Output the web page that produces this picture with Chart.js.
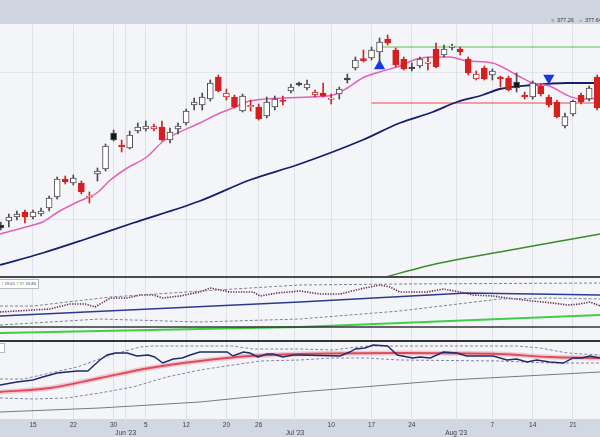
<!DOCTYPE html>
<html>
<head>
<meta charset="utf-8">
<script src="https://cdn.jsdelivr.net/npm/chart.js@4/dist/chart.umd.min.js"></script>
<style>
  html, body { margin: 0; padding: 0; }
  body { width: 600px; height: 437px; position: relative; overflow: hidden; background: #f4f5f9; font-family: "Liberation Sans", Arial, sans-serif; }
  .band { position: absolute; left: 0; width: 600px; background: #cfd5e0; }
  .rule { position: absolute; left: 0; width: 600px; background: #4a4a4a; }
  canvas { position: absolute; left: 0; }
  .hdr { position: absolute; top: 17px; font-size: 5.5px; color: #3a3a3a; white-space: nowrap; }
  .hdr.ic { color: #8a8f99; }
  .lbl { position: absolute; left: -3px; top: 279px; height: 8px; line-height: 8px; padding: 0 2px 0 3px; background: #fff; border: 1px solid #b5b9c2; font-size: 4.2px; white-space: nowrap; }
</style>
</head>
<body>
<div class="band" style="top:0;height:24px"></div>
<div class="band" style="top:419px;height:18px;background:#d2d8e2"></div>
<div class="hdr ic" style="left:551px">&#8801;</div>
<div class="hdr" style="left:557px">377.26</div>
<div class="hdr ic" style="left:579px">&raquo;</div>
<div class="hdr" style="left:585px">377.64</div>

<canvas id="main" width="600" height="252" style="top:25px"></canvas>
<canvas id="ind1" width="600" height="64" style="top:277px"></canvas>
<canvas id="ind2" width="600" height="96" style="top:341px"></canvas>

<div class="rule" style="top:276px;height:2px"></div>
<div class="rule" style="top:340px;height:2px;background:#333"></div>
<div class="lbl"><span style="color:#999">7</span> <span style="color:#6e2a4a">19.61</span> <span style="color:#3aa83a">7.97</span> <span style="color:#333">15.85</span></div>
<div class="lbl" style="top:343px;left:-12px;width:10px"></div>

<script>
// trading day index, 1 = May 9 '23
const days = [];
for (let d = 1; d <= 75; d++) days.push(d);

const opens = [340.00, 341.00, 342.00, 343.25, 342.00, 342.75, 344.25, 347.00, 351.50, 350.50,
  350.50, 346.90, 352.75, 354.00, 363.00, 360.00, 359.25, 363.50, 364.00, 364.00,
  364.50, 361.25, 364.00, 365.50, 370.00, 370.00, 371.50, 377.00, 372.00, 372.00,
  368.50, 369.50, 369.50, 367.25, 369.50, 371.25, 373.50, 375.50, 374.25, 372.50,
  373.00, 371.40, 372.75, 376.75, 379.25, 381.60, 381.75, 383.25, 386.50, 383.75,
  381.50, 379.50, 379.75, 380.40, 384.00, 382.50, 384.40, 384.00, 381.50, 376.50,
  379.25, 377.50, 377.00, 376.75, 375.75, 372.50, 372.00, 374.75, 372.00, 370.75,
  364.75, 367.75, 372.50, 371.50, 377.00];
const highs = [340.75, 342.75, 343.50, 343.75, 343.75, 344.25, 347.25, 352.00, 352.25, 352.50,
  351.00, 348.25, 354.25, 360.25, 363.75, 361.25, 363.50, 365.50, 366.00, 365.25,
  366.00, 364.25, 365.50, 369.00, 371.75, 373.00, 376.25, 377.50, 374.00, 372.50,
  372.75, 371.25, 370.25, 372.00, 372.25, 372.25, 375.25, 375.75, 376.25, 373.75,
  375.50, 372.75, 374.50, 377.75, 382.00, 383.75, 384.50, 386.75, 387.50, 384.25,
  382.00, 380.50, 382.00, 382.00, 385.50, 385.00, 385.25, 384.50, 382.00, 378.50,
  379.75, 379.00, 377.25, 377.25, 378.00, 373.25, 376.00, 375.25, 372.50, 371.25,
  368.00, 371.25, 373.00, 374.75, 377.50];
const lows = [338.75, 339.50, 341.25, 340.50, 341.50, 342.25, 343.50, 346.50, 350.25, 350.00,
  347.75, 345.50, 351.00, 353.50, 361.00, 358.25, 359.00, 363.00, 363.50, 363.50,
  361.00, 360.50, 362.75, 365.00, 368.75, 368.75, 371.00, 373.25, 371.25, 369.25,
  368.25, 368.50, 366.25, 366.75, 368.75, 370.00, 373.00, 374.75, 373.75, 372.00,
  372.00, 370.25, 371.50, 375.50, 378.75, 380.75, 381.25, 380.75, 385.00, 379.50,
  378.75, 378.50, 379.25, 378.75, 379.25, 382.00, 383.75, 382.50, 377.50, 376.25,
  376.25, 376.25, 374.50, 373.50, 373.25, 371.50, 371.50, 372.25, 369.50, 366.75,
  364.25, 367.25, 370.25, 371.00, 368.75];
const closes = [339.25, 342.00, 342.75, 342.00, 343.25, 343.50, 346.75, 351.50, 350.75, 351.75,
  348.25, 347.10, 353.50, 359.75, 361.25, 359.50, 362.50, 364.50, 364.75, 364.60,
  361.25, 363.25, 364.75, 368.50, 370.75, 372.00, 375.50, 373.50, 373.00, 369.50,
  372.25, 369.90, 366.50, 370.75, 371.50, 370.90, 374.50, 375.00, 375.25, 373.25,
  372.25, 371.75, 374.00, 376.25, 381.25, 381.10, 383.75, 385.75, 385.50, 380.00,
  379.00, 379.10, 381.50, 380.75, 379.50, 384.00, 384.75, 383.25, 378.00, 377.75,
  376.50, 378.50, 376.50, 373.75, 374.25, 372.00, 375.50, 372.75, 370.00, 367.00,
  367.10, 370.90, 370.75, 374.25, 369.25];

// overlays on the price panel: [day, value]
const emaShort = [[0.9, 337.75], [5, 340.0], [6.2, 340.75], [8.1, 343.25], [10.5, 345.75], [12.9, 348.0],
  [14.6, 351.25], [16.7, 354.25], [19.1, 357.0], [21.2, 361.0], [25.7, 365.5], [28.2, 368.0],
  [29.8, 369.25], [31.9, 371.0], [36.0, 371.75], [39.4, 372.0], [42.2, 372.5], [44.0, 374.25],
  [45.9, 376.75], [48.0, 378.25], [50.5, 379.75], [52.6, 381.5], [54.6, 382.0], [56.7, 382.0],
  [58.8, 381.0], [62.0, 380.5], [65.0, 377.5], [67.0, 375.5], [69.1, 374.75], [71.2, 372.5],
  [72.9, 371.5], [75.4, 371.75]];
const sma50 = [[0.9, 330.0], [6.2, 333.0], [11.2, 336.25], [17.4, 340.5], [25.7, 346.0], [31.9, 351.25],
  [38.1, 355.25], [45.9, 361.25], [50.5, 365.5], [54.6, 368.25], [57.6, 370.75], [60.8, 372.5],
  [62.9, 374.0], [67.0, 375.0], [71.2, 375.5], [75.4, 375.5]];
const sma200 = [[41.8, 323.25], [48.7, 327.0], [55.5, 330.5], [62.9, 333.25], [71.2, 336.25], [75.4, 337.75]];
const supportLine = [[47, 370.5], [75.4, 370.5]];
const resistLine = [[48, 384.5], [75.4, 384.5]];
const buySignals = [[48, 379.75]];
const sellSignals = [[69, 376.75]];

// first indicator panel
const ind1Price = [[0.9, 14.5], [7.1, 16], [9.6, 18.5], [11.5, 18.5], [12.7, 17], [14.6, 21.5], [16.7, 21.5],
  [18.3, 23], [19.9, 23], [21.1, 21.5], [23.2, 22.5], [25.7, 24.5], [27.0, 26.5], [29.4, 24.5],
  [32.3, 24.5], [33.2, 22.5], [35.3, 24], [38.1, 25], [40.6, 23.5], [43.1, 23.5], [45.6, 26],
  [48.0, 28], [49.3, 27], [50.5, 24.5], [53.9, 24.5], [55.9, 26], [58.0, 24.5], [59.6, 23],
  [62.1, 22.5], [63.8, 21.5], [67.0, 20], [69.5, 19], [71.3, 18], [72.9, 18.5], [74.1, 19.5], [75.4, 17.5]];
const ind1Upper = [[0.9, 17.5], [5, 17.5], [14.6, 22], [27.8, 25.5], [38.1, 28], [50.5, 28.5], [75.4, 29]];
const ind1Lower = [[0.9, 8], [13.3, 11], [25.7, 9.5], [38.1, 11], [50.5, 15], [62.9, 21], [69.1, 21.5], [75.4, 21]];
const ind1Avg = [[0.9, 12.5], [38.1, 19.5], [58.8, 24], [75.4, 23]];
const ind1Slow = [[0.9, 4], [38.1, 7], [75.4, 13]];
const ind1Level = 7;

// second indicator panel
const ind2Main = [[0.9, 17], [3.0, 18.5], [5, 19.5], [6.2, 21], [8.0, 23], [9.2, 23.5], [10.5, 24], [11.8, 24],
  [13.3, 29.5], [14.2, 32], [15.2, 33], [16.7, 33], [17.9, 31.5], [19.3, 32], [20.1, 31], [21.1, 28],
  [22.4, 30], [23.5, 30.5], [24.5, 32], [25.7, 33.5], [27.3, 33.5], [29.1, 33.5], [29.8, 31.5],
  [31.1, 33.5], [31.9, 33], [32.9, 31], [34.0, 32.5], [34.8, 32.5], [36.0, 31], [37.3, 32], [38.1, 32],
  [43.1, 31.5], [44.3, 33.5], [45.0, 35], [46.2, 35.5], [47.2, 37], [49.0, 36.5], [50.2, 32],
  [52.1, 30.5], [53.0, 31], [54.3, 30.5], [55.9, 33.5], [57.6, 33], [58.8, 31.5], [62.1, 31.5],
  [63.8, 29.5], [65.0, 30], [66.3, 28.5], [67.5, 29.5], [69.1, 28.5], [70.8, 28], [72.0, 30.5],
  [73.1, 30.5], [74.1, 31.5], [75.4, 30.5]];
const ind2Signal = [[0.9, 13.5], [7.1, 15.5], [13.3, 20.5], [19.5, 25.5], [25.7, 29], [31.9, 31.5], [38.1, 32.5],
  [50.5, 33], [62.9, 32.5], [69.1, 31], [75.4, 30.5]];
const ind2Upper = [[0.9, 20], [3.8, 20], [10.5, 26], [14.6, 32], [18.3, 36], [19.9, 36.5], [29.8, 36.5],
  [32.3, 35], [38.1, 35], [42.2, 34.5], [46.4, 36.5], [56.7, 36.5], [65.0, 36.5], [67.9, 35.5],
  [71.3, 33], [75.4, 32]];
const ind2Lower = [[0.9, 10.5], [5, 10], [9.2, 10.5], [13.3, 13], [17.4, 16], [21.6, 21], [25.7, 24.5],
  [29.8, 27], [33.2, 29], [38.1, 29.5], [42.2, 30.5], [46.4, 30.5], [50.5, 29.5], [62.9, 29],
  [69.1, 28], [75.4, 28]];
const ind2Base = [[0.9, 3.5], [13.3, 5.5], [25.7, 8.5], [38.1, 13.5], [56.7, 19.5], [75.4, 23.5]];

// date axis
const weekTicks = [5, 10, 15, 19, 24, 29, 33, 42, 47, 52, 62, 67, 72];
const weekLabels = ['15', '22', '30', '5', '12', '20', '26', '10', '17', '24', '7', '14', '21'];
const monthTicks = [16.5, 37.5, 57.5];
const monthLabels = ["Jun '23", "Jul '23", "Aug '23"];

const X_MIN = 0.906, X_MAX = 75.35;
const GRID = '#dde1e8';
const allTicks = weekTicks.concat(monthTicks).sort((a, b) => a - b);

function pts(arr) { return arr.map(p => ({ x: p[0], y: p[1] })); }

function candleColor(i) {
  const up = closes[i] >= opens[i];
  const gain = i === 0 || closes[i] >= closes[i - 1];
  const line = gain ? '#4b4b4b' : '#d42020';
  return { line: line, fill: up ? '#ffffff' : (gain ? '#151515' : '#d42020') };
}

function line(data, color, width, extra) {
  return Object.assign({
    type: 'line', data: pts(data), borderColor: color, borderWidth: width,
    pointRadius: 0, fill: false, order: 5
  }, extra || {});
}

function xScale(showLabels) {
  return {
    type: 'linear', min: X_MIN, max: X_MAX, offset: false,
    afterBuildTicks: s => { s.ticks = allTicks.map(v => ({ value: v })); },
    grid: { color: GRID, offset: false, drawTicks: showLabels, tickLength: 3 },
    border: { display: false },
    ticks: showLabels ? {
      autoSkip: false, maxRotation: 0, padding: 0, color: '#3a3f4a',
      font: { size: 6.5, family: '"Liberation Sans", Arial, sans-serif', lineHeight: 1.1 },
      callback: v => {
        const w = weekTicks.indexOf(v);
        if (w >= 0) return weekLabels[w];
        const m = monthTicks.indexOf(v);
        return m >= 0 ? ['', monthLabels[m]] : '';
      }
    } : { display: false },
    afterFit: s => { s.height = showLabels ? 18 : 0; }
  };
}

function yScale(min, max, gridVals) {
  return {
    type: 'linear', min: min, max: max,
    afterBuildTicks: s => { s.ticks = gridVals.map(v => ({ value: v })); },
    grid: { color: '#e2e5ec', drawTicks: false, display: gridVals.length > 0 },
    border: { display: false },
    ticks: { display: false },
    afterFit: s => { s.width = 0; }
  };
}

const baseOpts = {
  responsive: false, animation: false,
  layout: { padding: 0, autoPadding: false },
  plugins: { legend: { display: false }, tooltip: { enabled: false } },
  events: []
};

// price panel
new Chart(document.getElementById('main'), {
  type: 'bar',
  data: {
    datasets: [
      {
        type: 'line', data: pts(buySignals), showLine: false, pointStyle: 'triangle',
        pointRadius: 6.5, pointBackgroundColor: '#1637e6', pointBorderWidth: 0, order: 0
      },
      {
        type: 'line', data: pts(sellSignals), showLine: false, pointStyle: 'triangle', pointRotation: 180,
        pointRadius: 6.5, pointBackgroundColor: '#1637e6', pointBorderWidth: 0, order: 0
      },
      {
        type: 'bar', grouped: false, barThickness: 6, minBarLength: 1, order: 1,
        data: days.map((d, i) => ({ x: d, y: [opens[i], closes[i]] })),
        backgroundColor: c => candleColor(c.dataIndex).fill,
        borderColor: c => candleColor(c.dataIndex).line,
        borderWidth: 1, borderSkipped: false
      },
      {
        type: 'bar', grouped: false, barThickness: 1, order: 2,
        data: days.map((d, i) => ({ x: d, y: [lows[i], highs[i]] })),
        backgroundColor: c => candleColor(c.dataIndex).line,
        borderWidth: 0
      },
      line(emaShort, '#e262b6', 1.5, { cubicInterpolationMode: 'monotone', order: 3 }),
      line(sma50, '#16206a', 1.8, { cubicInterpolationMode: 'monotone' }),
      line(sma200, '#3a8c2c', 1.4, { cubicInterpolationMode: 'monotone' }),
      line(supportLine, '#e84a4a', 1),
      line(resistLine, '#5cbf4c', 1.2)
    ]
  },
  options: Object.assign({}, baseOpts, {
    scales: { x: xScale(false), y: yScale(327, 390, [341.5, 378.25]) }
  })
});

// first indicator
new Chart(document.getElementById('ind1'), {
  type: 'line',
  data: {
    datasets: [
      line([[X_MIN, ind1Level], [X_MAX, ind1Level]], '#333333', 1.5),
      line(ind1Slow, '#45cc45', 2),
      line(ind1Avg, '#2c3a8c', 1.3),
      line(ind1Upper, '#7d8196', 1, { borderDash: [3, 2] }),
      line(ind1Lower, '#7d8196', 1, { borderDash: [3, 2] }),
      line(ind1Price, '#6e2a4a', 1.6, { borderDash: [1.3, 1.3] })
    ]
  },
  options: Object.assign({}, baseOpts, {
    scales: { x: xScale(false), y: yScale(0, 32, []) }
  })
});

// second indicator with date axis
new Chart(document.getElementById('ind2'), {
  type: 'line',
  data: {
    datasets: [
      line(ind2Base, '#7a7a7a', 1),
      line(ind2Upper, '#7f86a6', 1, { borderDash: [3, 2] }),
      line(ind2Lower, '#7f86a6', 1, { borderDash: [3, 2] }),
      line(ind2Signal, 'rgba(236,120,145,0.35)', 5, { cubicInterpolationMode: 'monotone' }),
      line(ind2Signal, '#d8343a', 1.8, { cubicInterpolationMode: 'monotone' }),
      line(ind2Main, '#1f2a6b', 1.4, { order: 4 })
    ]
  },
  options: Object.assign({}, baseOpts, {
    scales: { x: xScale(true), y: yScale(0, 39, []) }
  })
});
</script>
</body>
</html>
